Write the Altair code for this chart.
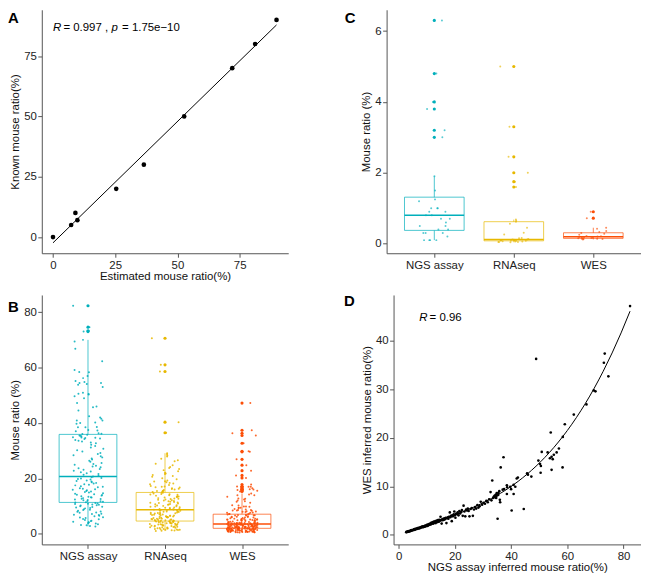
import altair as alt
import pandas as pd

FONT = "Liberation Sans"
GROUPS = ["NGS assay", "RNAseq", "WES"]
COLORS = ["#00AFBB", "#E7B800", "#FC4E07"]

# ---------------- Panel A ----------------
a_est = [0.0, 7.3, 9.0, 9.8, 25.4, 36.5, 52.7, 72.0, 81.2, 89.8]
a_known = [0, 5, 10, 7, 20, 30, 50, 70, 80, 90]

# ---------------- Panel C ----------------
c_ngs = [6.3, 4.8, 4.0, 3.8, 3.2, 3.0, 1.9, 1.5, 1.25, 1.2, 1.0, 1.0, 1.0, 0.9, 0.9, 0.8,
         0.8, 0.7, 0.7, 0.6, 0.5, 0.5, 0.4, 0.4, 0.3, 0.3, 0.3, 0.2, 0.1, 0.1, 0.1, 0.1]
c_rna = [5.0, 3.3, 2.45, 2.0, 1.75, 1.6, 0.68, 0.65, 0.62, 0.56, 0.45, 0.31, 0.26, 0.16,
         0.15, 0.13, 0.12, 0.12, 0.11, 0.1, 0.1, 0.1, 0.09, 0.09, 0.08, 0.08, 0.07, 0.06,
         0.06, 0.05, 0.05, 0.05, 0.04]
c_wes = [0.9, 0.72, 0.45, 0.42, 0.36, 0.33, 0.3, 0.28, 0.25, 0.22, 0.21, 0.2, 0.19, 0.19,
         0.18, 0.17, 0.16, 0.15, 0.15, 0.14, 0.14, 0.13, 0.13, 0.12]

# ---------------- Panel D (paired samples) ----------------
d_ngs = [
    2.7, 2.8, 3.1, 3.2, 3.5, 3.7, 3.8, 4.1, 4.2, 4.4, 4.6, 4.7, 5.0, 5.3, 5.4, 5.7, 5.9, 6.0,
    6.4, 6.5, 6.8, 6.9, 7.2, 7.3, 7.6, 7.7, 8.0, 8.1, 8.3, 8.6, 8.7, 8.9, 9.2, 9.3, 9.5, 9.7,
    9.8, 10.0, 10.2, 10.3, 10.5, 10.6, 10.8, 10.9, 11.0,
    11.1, 11.3, 11.4, 11.6, 11.8, 11.9, 12.1, 12.2, 12.4, 12.6, 12.7, 12.9, 13.1, 13.2, 13.4,
    13.6, 13.8, 14.0, 14.1, 14.3, 14.5, 14.7, 14.9, 15.1, 15.3, 15.5, 15.7, 15.9, 16.1, 16.3,
    16.5, 16.8, 17.0, 17.2, 17.5, 17.7, 17.9, 18.2, 18.4, 18.6, 18.9, 19.1, 19.3, 19.6, 19.8,
    20.0, 20.2, 20.4,
    20.7, 21.0, 21.3, 21.6, 21.9, 22.2, 22.5, 22.8, 23.1, 23.4, 23.7, 24.0, 24.3, 24.6, 24.9,
    25.2, 25.6, 26.0, 26.4, 26.8, 27.2, 27.6, 28.0, 28.4, 28.8, 29.2, 29.7, 30.2, 30.7, 31.2,
    31.7, 32.2, 32.7, 33.0, 33.3, 33.6, 33.9, 34.2, 34.4, 34.6, 34.8, 34.9,
    82.3, 74.6, 73.3, 73.0, 70.0, 69.4, 66.8, 62.3, 59.1, 58.4, 58.3, 57.0, 56.2, 55.2, 54.8,
    54.4, 54.1, 54.4, 53.8, 53.0, 50.9, 50.6, 50.3, 49.7, 50.5, 48.9, 47.2, 46.0, 44.5, 42.4,
    42.0, 41.5, 40.9, 40.9, 40.2, 39.7, 38.5, 38.5, 37.3, 37.0, 36.3, 36.1, 36.0, 35.8, 35.5,
    35.2, 35.4, 34.7, 45.7, 40.0, 38.6, 37.5,
]
d_wes = [
    0.5, 0.6, 0.55, 0.7, 0.6, 0.75, 0.7, 0.8, 0.75, 0.9, 0.85, 0.95, 0.9, 1.0, 1.1, 1.0, 1.2,
    1.1, 1.25, 1.2, 1.35, 1.3, 1.4, 1.3, 1.5, 1.4, 1.6, 1.5, 1.7, 1.55, 1.75, 1.6, 1.8, 1.65,
    1.9, 1.75, 1.85, 2.0, 1.8, 2.1, 1.9, 2.0, 2.2, 2.05, 2.15,
    2.2, 2.1, 2.4, 2.2, 2.5, 2.3, 2.4, 2.6, 2.3, 2.7, 2.5, 2.6, 2.8, 2.4, 2.7, 2.9, 2.6, 3.0,
    2.8, 2.7, 3.1, 2.9, 3.7, 3.0, 2.3, 3.2, 3.0, 3.3, 3.1, 3.4, 3.2, 3.5, 2.4, 3.4, 3.6, 3.3,
    3.7, 4.6, 3.6, 3.9, 2.8, 4.0, 3.8, 4.2, 4.8, 4.0, 3.5, 4.3,
    4.3, 4.6, 4.0, 4.9, 4.4, 4.7, 5.1, 3.9, 6.0, 4.8, 3.8, 5.2, 5.0, 5.4, 4.9, 3.8, 5.3, 5.5,
    3.9, 5.2, 5.7, 5.4, 6.1, 5.6, 5.9, 6.8, 6.2, 6.6, 6.4, 7.0, 6.7, 7.3, 8.8, 7.1, 11.2, 7.6,
    7.9, 8.1, 7.7, 8.3, 8.0, 8.6,
    47.2, 32.7, 37.4, 35.5, 29.6, 29.8, 26.9, 24.8, 22.8, 20.2, 13.9, 17.8, 17.0, 16.5, 15.6,
    16.1, 21.1, 13.4, 15.8, 17.0, 17.1, 14.2, 14.6, 15.3, 12.8, 36.3, 12.0, 12.4, 5.3, 11.8,
    11.6, 9.9, 10.3, 8.4, 5.0, 9.9, 10.2, 8.4, 16.0, 9.3, 13.9, 6.7, 7.2, 9.0, 8.6, 3.3, 8.2,
    7.6, 12.7, 9.4, 9.8, 9.4,
]

# ---------------- Panel B ----------------
b_ngs = d_ngs
b_wes_extra = [0.6, 0.7, 0.8, 0.9, 1.0, 1.1, 1.2, 1.3, 1.4, 1.5, 1.6, 1.7, 1.8, 1.9, 0.65,
               0.95, 1.15, 1.45, 1.75, 1.95, 2.1, 2.2, 2.3, 2.4, 2.5, 2.6, 2.7, 2.8, 2.9, 3.0,
               3.1, 3.2, 3.3, 3.4, 3.5, 3.6, 3.7, 3.8, 3.9, 2.45, 4.2, 4.5, 4.8, 5.1, 5.5,
               5.9, 6.2, 6.6, 6.9, 7.2]
b_wes = d_wes + b_wes_extra
b_rna = [
    70.6, 61.0, 58.6, 40.3, 36.5,
    29.1, 28.7, 28.3, 27.9, 27.1, 26.6, 26.2, 25.3, 24.8, 24.1, 23.4, 23.0, 22.6, 22.1, 21.8,
    21.6, 21.2, 20.6, 20.1, 19.7, 19.3, 18.9, 18.6, 18.2, 17.9, 17.6, 17.3, 17.0, 16.8, 16.5,
    16.2, 16.0, 15.8, 15.6, 15.4, 15.3, 15.1, 19.0, 17.1, 16.3, 15.5, 16.7, 18.4, 20.9, 23.8,
    14.9, 14.8, 14.6, 14.4, 14.3, 14.1, 13.9, 13.8, 13.6, 13.4, 13.3, 13.1, 12.9, 12.8, 12.6,
    12.4, 12.3, 12.1, 11.9, 11.8, 11.6, 11.5, 11.3, 11.1, 11.0, 10.8, 10.7, 10.5, 10.3, 10.2,
    10.0, 9.9, 9.8, 9.6, 9.5, 9.4, 9.2, 9.1, 9.0, 8.9, 8.8, 8.75, 9.3, 10.1, 10.6, 11.2, 12.0,
    12.7, 13.5, 14.2,
    8.6, 8.5, 8.4, 8.3, 8.2, 8.1, 7.9, 7.8, 7.7, 7.6, 7.5, 7.4, 7.3, 7.1, 7.0, 6.9, 6.8, 6.7,
    6.6, 6.5, 6.4, 6.3, 6.2, 6.1, 6.0, 5.9, 5.8, 5.7, 5.6, 5.5, 5.4, 5.3, 5.2, 5.1, 5.0, 4.9,
    4.8, 4.75, 4.7, 4.65, 8.65, 8.0, 7.2, 6.55, 6.05, 5.45, 5.15, 4.85, 7.35, 6.25,
    4.55, 4.5, 4.4, 4.3, 4.2, 4.1, 4.0, 3.9, 3.8, 3.7, 3.6, 3.5, 3.4, 3.3, 3.2, 3.1, 3.0, 2.9,
    2.8, 2.7, 2.6, 2.5, 2.4, 2.3, 2.2, 2.1, 2.0, 1.9, 1.8, 1.7, 1.6, 1.5, 1.4, 1.3, 1.1, 1.0,
    4.45, 4.15, 3.85, 3.55, 3.25, 2.95, 2.65, 2.35, 2.05, 1.75, 1.45, 1.2, 3.65, 4.35,
]

FS = 11.5
AX = dict(grid=False, domainColor="#555555", domainWidth=1, tickColor="#555555", tickSize=4,
          tickWidth=1, labelColor="#222222", labelFontSize=FS, titleFontSize=FS,
          titleFontWeight="normal", titleColor="#111111", labelFont=FONT, titleFont=FONT,
          labelFlush=False)


def yaxis(values, title):
    return alt.Axis(values=values, title=title, labelPadding=1.5, titlePadding=3, **AX)


def xaxis(values, title):
    return alt.Axis(values=values, title=title, labelPadding=2, titlePadding=0, **AX)


def letter(ch, x, y):
    return alt.Chart(pd.DataFrame({"t": [ch]})).mark_text(
        align="left", baseline="alphabetic", fontSize=15, fontWeight="bold", font=FONT,
        color="black").encode(x=alt.value(x), y=alt.value(y), text="t:N")


def note(df, italic, dx, xenc, yenc):
    return alt.Chart(df).mark_text(
        align="left", baseline="alphabetic", fontSize=FS, font=FONT, color="black",
        fontStyle="italic" if italic else "normal", dx=dx).encode(x=xenc, y=yenc, text="t:N")


# ---------------- Build A ----------------
dfA = pd.DataFrame({"est": a_est, "known": a_known})
xsA = alt.Scale(domain=[-4.5, 94.5], nice=False, zero=False)
ysA = alt.Scale(domain=[-6.7, 94.2], nice=False, zero=False)
xA = alt.X("est:Q", scale=xsA, axis=xaxis([0, 25, 50, 75], "Estimated mouse ratio(%)"))
yA = alt.Y("known:Q", scale=ysA, axis=yaxis([0, 25, 50, 75], "Known mouse ratio(%)"))
lineA = alt.Chart(dfA).transform_regression("est", "known").mark_line(
    color="black", strokeWidth=1).encode(x=xA, y=yA)
ptsA = alt.Chart(dfA).mark_circle(size=22, color="black", opacity=1).encode(x=xA, y=yA)
annA = []
for txt, ital, dx in [("R", True, 0), ("= 0.997 ,", False, 10.5), ("p", True, 59),
                      ("= 1.75e−10", False, 69.5)]:
    d = pd.DataFrame({"est": [0.0], "known": [85.5], "t": [txt]})
    annA.append(note(d, ital, dx, xA, yA))
panelA = alt.layer(lineA, ptsA, *annA, letter("A", -34, 13)).properties(width=248, height=245)


# ---------------- Box panels ----------------
def box_panel(vals_by_group, ydom, yticks, w, h, jsize, osize, jop, let, lx, ly):
    rows = []
    for gi, (g, vals) in enumerate(zip(GROUPS, vals_by_group), start=1):
        for v in vals:
            rows.append({"group": g, "gi": gi, "value": v})
    df = pd.DataFrame(rows)
    xs = alt.Scale(domain=[0.4, 3.6], nice=False, zero=False)
    xax = alt.Axis(values=[1, 2, 3], title=None, labelPadding=2,
                   labelExpr="datum.value == 1 ? 'NGS assay' : datum.value == 2 ? 'RNAseq' : 'WES'",
                   **AX)
    ys = alt.Scale(domain=ydom, nice=False, zero=False)
    yax = yaxis(yticks, "Mouse ratio (%)")
    col = alt.Color("group:N", scale=alt.Scale(domain=GROUPS, range=COLORS), legend=None)
    stk = alt.Stroke("group:N", scale=alt.Scale(domain=GROUPS, range=COLORS), legend=None)

    def X(f):
        return alt.X(f, scale=xs, axis=xax)

    def Y(f):
        return alt.Y(f, scale=ys, axis=yax)

    base = alt.Chart(df)
    fences = base.transform_joinaggregate(
        q1="q1(value)", q3="q3(value)", groupby=["group"]
    ).transform_calculate(
        lo="datum.q1 - 1.5 * (datum.q3 - datum.q1)",
        hi="datum.q3 + 1.5 * (datum.q3 - datum.q1)")
    whisk = fences.transform_filter(
        "datum.value >= datum.lo && datum.value <= datum.hi"
    ).transform_aggregate(
        lw="min(value)", uw="max(value)", groupby=["group", "gi"]
    ).mark_rule(strokeWidth=1, opacity=0.7).encode(x=X("gi:Q"), y=Y("lw:Q"), y2="uw:Q", color=col)
    stats = base.transform_aggregate(
        q1="q1(value)", q3="q3(value)", med="median(value)", groupby=["group", "gi"]
    ).transform_calculate(xl="datum.gi - 0.375", xr="datum.gi + 0.375")
    box = stats.mark_rect(fill="white", strokeWidth=1, strokeOpacity=0.7).encode(
        x=X("xl:Q"), x2="xr:Q", y=Y("q1:Q"), y2="q3:Q", stroke=stk)
    med = stats.mark_rule(strokeWidth=1.5).encode(x=X("xl:Q"), x2="xr:Q", y=Y("med:Q"), color=col)
    outl = fences.transform_filter(
        "datum.value < datum.lo || datum.value > datum.hi"
    ).mark_circle(size=osize, opacity=1).encode(x=X("gi:Q"), y=Y("value:Q"), color=col)
    # deterministic hash-based horizontal jitter (width 0.4 of a category step)
    jit = base.transform_window(
        rn="row_number()", groupby=["group"]
    ).transform_calculate(
        h="sin(datum.rn * 12.9898 + datum.gi * 78.233) * 43758.5453"
    ).transform_calculate(
        jx="datum.gi + ((datum.h - floor(datum.h)) - 0.5) * 0.4"
    ).mark_circle(size=jsize, opacity=jop).encode(x=X("jx:Q"), y=Y("value:Q"), color=col)
    return alt.layer(whisk, box, med, outl, jit, letter(let, lx, ly)).properties(width=w, height=h)


panelB = box_panel([b_ngs, b_rna, b_wes], [-3.8, 86.2], [0, 20, 40, 60, 80], 248, 251,
                   4, 10, 0.85, "B", -34, 17)
panelC = box_panel([c_ngs, c_rna, c_wes], [-0.27, 6.6], [0, 2, 4, 6], 256, 245,
                   4, 10, 0.65, "C", -42, 13)

# ---------------- Build D ----------------
dfD = pd.DataFrame({"ngs": d_ngs, "wes": d_wes})
xD = alt.X("ngs:Q", scale=alt.Scale(domain=[-1.8, 86.2], nice=False, zero=False),
           axis=xaxis([0, 20, 40, 60, 80], "NGS assay inferred mouse ratio(%)"))
yD = alt.Y("wes:Q", scale=alt.Scale(domain=[-2.0, 49.5], nice=False, zero=False),
           axis=yaxis([0, 10, 20, 30, 40], "WES inferred mouse ratio(%)"))
curveD = alt.Chart(dfD).transform_regression("ngs", "wes", method="poly", order=3).mark_line(
    color="black", strokeWidth=1).encode(x=xD, y=yD)
ptsD = alt.Chart(dfD).mark_circle(size=7, color="black", opacity=1).encode(x=xD, y=yD)
annD = []
for txt, ital, dx in [("R", True, 0), ("= 0.96", False, 10.5)]:
    d = pd.DataFrame({"ngs": [7.3], "wes": [44.2], "t": [txt]})
    annD.append(note(d, ital, dx, xD, yD))
panelD = alt.layer(curveD, ptsD, *annD, letter("D", -50, 11)).properties(width=249, height=251)

top = alt.hconcat(panelA, panelC, spacing=99, bounds="flush")
bottom = alt.hconcat(panelB, panelD, spacing=106, bounds="flush")
chart = alt.vconcat(top, bottom, spacing=12).properties(
    padding=0, background="white"
).configure_view(stroke=None)

chart.save("out.html", embed_options={"renderer": "svg", "actions": False})
